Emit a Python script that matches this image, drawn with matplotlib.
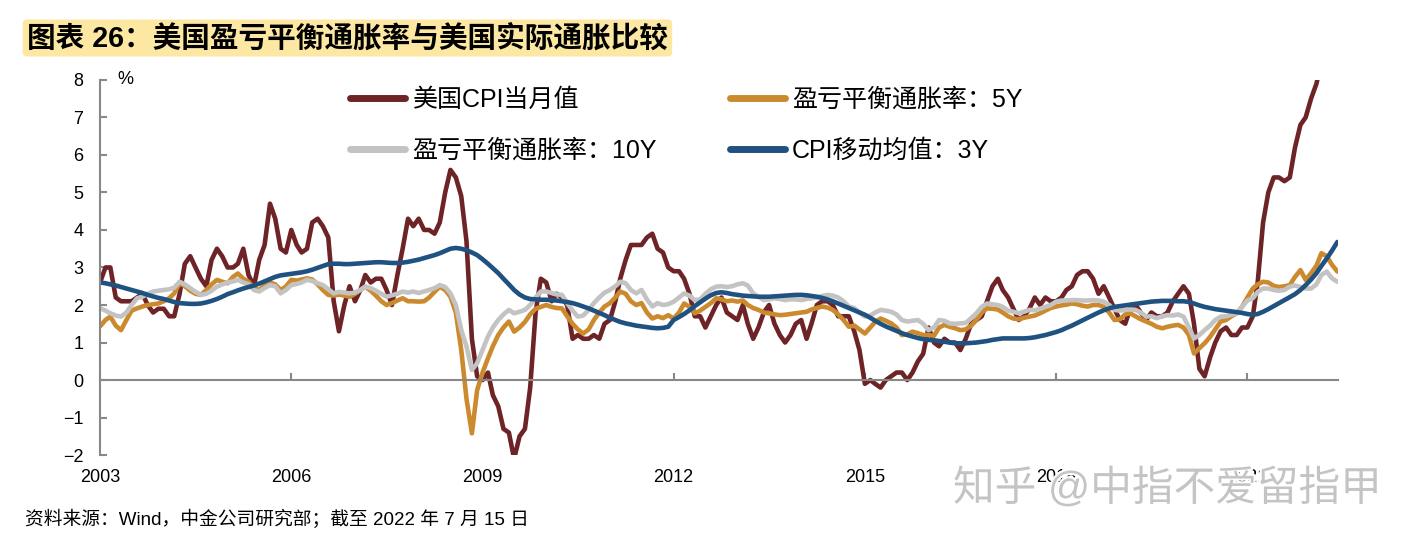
import numpy as np
import pandas as pd
import matplotlib
matplotlib.use("Agg")
import matplotlib.pyplot as plt
import matplotlib.dates as mdates
import matplotlib.patheffects as pe

plt.rcParams["font.family"] = ["Liberation Sans", "Noto Sans CJK SC", "DejaVu Sans"]
plt.rcParams["axes.unicode_minus"] = True

months = pd.date_range("2003-01-01", "2022-06-01", freq="MS")

# US CPI yoy, monthly (%)
cpi = [
    2.6, 3.0, 3.0, 2.2, 2.1, 2.1, 2.1, 2.2, 2.3, 2.0, 1.8, 1.9,
    1.9, 1.7, 1.7, 2.3, 3.1, 3.3, 3.0, 2.7, 2.5, 3.2, 3.5, 3.3,
    3.0, 3.0, 3.1, 3.5, 2.8, 2.5, 3.2, 3.6, 4.7, 4.3, 3.5, 3.4,
    4.0, 3.6, 3.4, 3.5, 4.2, 4.3, 4.1, 3.8, 2.1, 1.3, 2.0, 2.5,
    2.1, 2.4, 2.8, 2.6, 2.7, 2.7, 2.4, 2.0, 2.8, 3.5, 4.3, 4.1,
    4.3, 4.0, 4.0, 3.9, 4.2, 5.0, 5.6, 5.4, 4.9, 3.7, 1.1, 0.1,
    0.0, 0.2, -0.4, -0.7, -1.3, -1.4, -2.1, -1.5, -1.3, -0.2, 1.8, 2.7,
    2.6, 2.1, 2.3, 2.2, 2.0, 1.1, 1.2, 1.1, 1.1, 1.2, 1.1, 1.5,
    1.6, 2.1, 2.7, 3.2, 3.6, 3.6, 3.6, 3.8, 3.9, 3.5, 3.4, 3.0,
    2.9, 2.9, 2.7, 2.3, 1.7, 1.7, 1.4, 1.7, 2.0, 2.2, 1.8, 1.7,
    1.6, 2.0, 1.5, 1.1, 1.4, 1.8, 2.0, 1.5, 1.2, 1.0, 1.2, 1.5,
    1.6, 1.1, 1.5, 2.0, 2.1, 2.1, 2.0, 1.7, 1.7, 1.7, 1.3, 0.8,
    -0.1, 0.0, -0.1, -0.2, 0.0, 0.1, 0.2, 0.2, 0.0, 0.2, 0.5, 0.7,
    1.4, 1.0, 0.9, 1.1, 1.0, 1.0, 0.8, 1.1, 1.5, 1.6, 1.7, 2.1,
    2.5, 2.7, 2.4, 2.2, 1.9, 1.6, 1.7, 1.9, 2.2, 2.0, 2.2, 2.1,
    2.1, 2.2, 2.4, 2.5, 2.8, 2.9, 2.9, 2.7, 2.3, 2.5, 2.2, 1.9,
    1.6, 1.5, 1.9, 2.0, 1.8, 1.6, 1.8, 1.7, 1.7, 1.8, 2.1, 2.3,
    2.5, 2.3, 1.5, 0.3, 0.1, 0.6, 1.0, 1.3, 1.4, 1.2, 1.2, 1.4,
    1.4, 1.7, 2.6, 4.2, 5.0, 5.4, 5.4, 5.3, 5.4, 6.2, 6.8, 7.0,
    7.5, 7.9, 8.5, 8.3, 8.6, 9.1,
]

# 5Y breakeven (%)
be5 = [
    1.43, 1.60, 1.69, 1.45, 1.33, 1.60, 1.85, 1.91, 1.96, 2.00, 2.02, 2.04,
    2.10, 2.18, 2.31, 2.58, 2.50, 2.38, 2.30, 2.27, 2.40, 2.55, 2.67, 2.62,
    2.58, 2.75, 2.84, 2.70, 2.62, 2.45, 2.40, 2.52, 2.60, 2.55, 2.40, 2.49,
    2.67, 2.65, 2.68, 2.71, 2.68, 2.55, 2.40, 2.27, 2.25, 2.28, 2.25, 2.22,
    2.30, 2.40, 2.49, 2.38, 2.25, 2.10, 2.00, 2.05, 2.12, 2.18, 2.10, 2.10,
    2.09, 2.10, 2.20, 2.35, 2.49, 2.40, 2.22, 1.80, 0.80, -0.50, -1.42, -0.27,
    0.20, 0.58, 0.90, 1.20, 1.40, 1.56, 1.29, 1.40, 1.55, 1.75, 1.90, 1.95,
    2.00, 1.95, 1.92, 1.91, 1.70, 1.50, 1.35, 1.24, 1.35, 1.60, 1.80, 1.96,
    2.05, 2.20, 2.36, 2.30, 2.10, 2.00, 2.05, 1.80, 1.64, 1.70, 1.65, 1.73,
    1.64, 1.80, 2.04, 1.95, 1.78, 1.85, 1.95, 2.05, 2.18, 2.15, 2.10, 2.12,
    2.09, 2.12, 2.00, 1.92, 1.87, 1.80, 1.78, 1.75, 1.73, 1.74, 1.76, 1.78,
    1.80, 1.82, 1.88, 1.92, 1.96, 1.93, 1.87, 1.75, 1.60, 1.42, 1.45, 1.35,
    1.24, 1.40, 1.55, 1.64, 1.58, 1.51, 1.40, 1.20, 1.22, 1.29, 1.25, 1.20,
    1.20, 1.18, 1.40, 1.47, 1.42, 1.38, 1.33, 1.35, 1.45, 1.60, 1.80, 1.91,
    1.90, 1.88, 1.80, 1.70, 1.64, 1.62, 1.66, 1.69, 1.72, 1.78, 1.85, 1.92,
    1.96, 1.99, 2.01, 2.04, 2.02, 1.98, 1.96, 2.00, 2.00, 1.95, 1.80, 1.60,
    1.62, 1.75, 1.78, 1.70, 1.62, 1.56, 1.50, 1.42, 1.38, 1.42, 1.45, 1.47,
    1.40, 1.20, 0.71, 0.85, 0.98, 1.15, 1.35, 1.56, 1.60, 1.70, 1.78, 1.95,
    2.20, 2.44, 2.55, 2.62, 2.60, 2.51, 2.48, 2.50, 2.53, 2.75, 2.93, 2.67,
    2.85, 3.05, 3.38, 3.30, 3.07, 2.89,
]

# 10Y breakeven (%)
be10 = [
    1.92, 1.85, 1.78, 1.72, 1.69, 1.80, 2.00, 2.18, 2.22, 2.30, 2.36, 2.38,
    2.40, 2.42, 2.46, 2.62, 2.55, 2.45, 2.35, 2.27, 2.30, 2.38, 2.49, 2.55,
    2.60, 2.63, 2.67, 2.60, 2.55, 2.40, 2.36, 2.45, 2.53, 2.50, 2.31, 2.40,
    2.53, 2.56, 2.60, 2.67, 2.64, 2.58, 2.53, 2.42, 2.31, 2.35, 2.33, 2.31,
    2.33, 2.40, 2.49, 2.45, 2.38, 2.30, 2.22, 2.26, 2.30, 2.36, 2.33, 2.36,
    2.32, 2.36, 2.40, 2.45, 2.53, 2.48, 2.31, 2.00, 1.33, 0.90, 0.27, 0.45,
    0.80, 1.16, 1.40, 1.60, 1.75, 1.87, 1.78, 1.82, 1.87, 2.00, 2.20, 2.36,
    2.36, 2.32, 2.28, 2.27, 2.05, 1.85, 1.69, 1.72, 1.87, 2.05, 2.20, 2.33,
    2.40, 2.50, 2.62, 2.58, 2.40, 2.31, 2.40, 2.15, 1.96, 2.05, 2.00, 2.02,
    2.09, 2.20, 2.31, 2.25, 2.13, 2.15, 2.30, 2.42, 2.49, 2.50, 2.48, 2.50,
    2.55, 2.58, 2.52, 2.31, 2.22, 2.13, 2.15, 2.18, 2.16, 2.13, 2.15, 2.15,
    2.13, 2.16, 2.18, 2.20, 2.24, 2.27, 2.25, 2.20, 2.10, 1.96, 1.92, 1.80,
    1.69, 1.72, 1.80, 1.87, 1.85, 1.82, 1.75, 1.60, 1.56, 1.58, 1.60, 1.50,
    1.33, 1.40, 1.60, 1.58, 1.51, 1.50, 1.51, 1.52, 1.65, 1.78, 1.95, 2.04,
    2.02, 2.00, 1.95, 1.85, 1.82, 1.78, 1.82, 1.87, 1.86, 1.90, 1.95, 2.00,
    2.09, 2.12, 2.12, 2.13, 2.13, 2.12, 2.12, 2.13, 2.12, 2.09, 2.00, 1.87,
    1.85, 1.87, 1.88, 1.87, 1.80, 1.69, 1.70, 1.65, 1.70, 1.73, 1.72, 1.75,
    1.69, 1.40, 1.11, 1.20, 1.33, 1.45, 1.60, 1.69, 1.70, 1.74, 1.78, 1.95,
    2.12, 2.18, 2.35, 2.44, 2.44, 2.40, 2.38, 2.40, 2.49, 2.52, 2.48, 2.44,
    2.44, 2.55, 2.80, 2.89, 2.71, 2.62,
]

# CPI 3-year moving average (%)
cpi_ma3y = [
    2.60, 2.58, 2.55, 2.52, 2.48, 2.44, 2.40, 2.36, 2.32, 2.27, 2.23, 2.19,
    2.16, 2.12, 2.08, 2.05, 2.04, 2.03, 2.03, 2.04, 2.07, 2.11, 2.16, 2.22,
    2.29, 2.34, 2.39, 2.44, 2.48, 2.52, 2.57, 2.63, 2.69, 2.75, 2.79, 2.81,
    2.83, 2.85, 2.87, 2.90, 2.94, 2.99, 3.04, 3.09, 3.10, 3.10, 3.09, 3.09,
    3.10, 3.11, 3.12, 3.13, 3.14, 3.14, 3.13, 3.12, 3.12, 3.13, 3.15, 3.18,
    3.21, 3.25, 3.29, 3.33, 3.38, 3.44, 3.50, 3.52, 3.50, 3.46, 3.40, 3.33,
    3.22, 3.10, 2.98, 2.85, 2.70, 2.55, 2.40, 2.28, 2.20, 2.16, 2.15, 2.14,
    2.14, 2.13, 2.12, 2.10, 2.08, 2.05, 2.01, 1.96, 1.91, 1.85, 1.79, 1.73,
    1.66, 1.60, 1.55, 1.51, 1.48, 1.45, 1.43, 1.41, 1.39, 1.38, 1.39, 1.42,
    1.60, 1.68, 1.76, 1.86, 1.97, 2.07, 2.17, 2.26, 2.32, 2.34, 2.32, 2.29,
    2.27, 2.25, 2.24, 2.23, 2.22, 2.22, 2.22, 2.23, 2.24, 2.25, 2.26, 2.27,
    2.27, 2.26, 2.24, 2.22, 2.19, 2.15, 2.10, 2.04, 1.98, 1.92, 1.86, 1.80,
    1.74, 1.66, 1.58, 1.50, 1.43, 1.37, 1.31, 1.25, 1.20, 1.16, 1.12, 1.09,
    1.07, 1.06, 1.04, 1.02, 1.00, 0.98, 0.98, 0.98, 0.99, 1.00, 1.02, 1.04,
    1.07, 1.09, 1.11, 1.11, 1.11, 1.11, 1.11, 1.12, 1.14, 1.17, 1.20, 1.24,
    1.28, 1.33, 1.39, 1.45, 1.52, 1.59, 1.66, 1.73, 1.80, 1.86, 1.91, 1.95,
    1.97, 1.99, 2.01, 2.03, 2.05, 2.07, 2.09, 2.10, 2.11, 2.11, 2.11, 2.10,
    2.10, 2.08, 2.04, 1.99, 1.95, 1.92, 1.89, 1.87, 1.85, 1.83, 1.81, 1.79,
    1.76, 1.74, 1.76, 1.82, 1.89, 1.97, 2.05, 2.13, 2.21, 2.29, 2.40, 2.53,
    2.68, 2.85, 3.04, 3.24, 3.45, 3.68,
]

labels = ["美国CPI当月值", "盈亏平衡通胀率：5Y", "盈亏平衡通胀率：10Y", "CPI移动均值：3Y"]
colors = ["#6E2426", "#CC8A2E", "#C3C3C3", "#1F5281"]
tick_years = [2003, 2006, 2009, 2012, 2015, 2018, 2021]

fig = plt.figure(figsize=(14.19, 5.47), dpi=100)
ax = fig.add_axes([0.0705, 0.168, 0.8725, 0.686])

lines = []
for series, lab, c in zip([cpi, be5, be10, cpi_ma3y], labels, colors):
    ln, = ax.plot(months, series, color=c, lw=3.3, label=lab,
                  solid_joinstyle="round", solid_capstyle="round")
    lines.append(ln)

ax.set_ylim(-2, 8)
ax.set_yticks(range(-2, 9))
ax.set_xlim(pd.Timestamp("2003-01-01"), pd.Timestamp("2022-06-05"))
ax.set_xticks([pd.Timestamp(f"{y}-01-01") for y in tick_years])
ax.xaxis.set_major_formatter(mdates.DateFormatter("%Y"))

ax.spines[["top", "right"]].set_visible(False)
ax.spines["bottom"].set_position(("data", 0))
for s in ("left", "bottom"):
    ax.spines[s].set_color("#888888")
    ax.spines[s].set_linewidth(1.5)
ax.tick_params(direction="in", length=5, width=1.5, color="#888888", labelsize=13)
ax.tick_params(axis="x", pad=64)
ax.tick_params(axis="y", pad=12)
ax.text(0.014, 1.0, "%", transform=ax.transAxes, fontsize=13, va="center", ha="left")

leg = ax.legend([lines[0], lines[2], lines[1], lines[3]],
                [labels[0], labels[2], labels[1], labels[3]],
                ncol=2, frameon=False, fontsize=18, loc="upper left",
                bbox_to_anchor=(350 / 1419, 1 - 88 / 547), bbox_transform=fig.transFigure,
                borderaxespad=0, borderpad=0, handlelength=2.2, handletextpad=0.3,
                columnspacing=2.9, labelspacing=1.08)
for h in leg.get_lines():
    h.set_linewidth(5)

fig.text(27 / 1419, 1 - 38 / 547, "图表 26：美国盈亏平衡通胀率与美国实际通胀比较",
         fontsize=20.6, fontweight="bold", va="center", ha="left",
         bbox=dict(boxstyle="round,pad=0.15", facecolor="#FCE8A2", edgecolor="none"))
fig.text(25 / 1419, 1 - 519 / 547, "资料来源：Wind，中金公司研究部；截至 2022 年 7 月 15 日",
         fontsize=13.5, va="center", ha="left")
fig.text(953 / 1419, 1 - 489 / 547, "知乎 @中指不爱留指甲", fontsize=30, color="#C4C4C4",
         va="center", ha="left", zorder=10,
         path_effects=[pe.withStroke(linewidth=3, foreground="white")])

fig.savefig("out.png", dpi=100)
